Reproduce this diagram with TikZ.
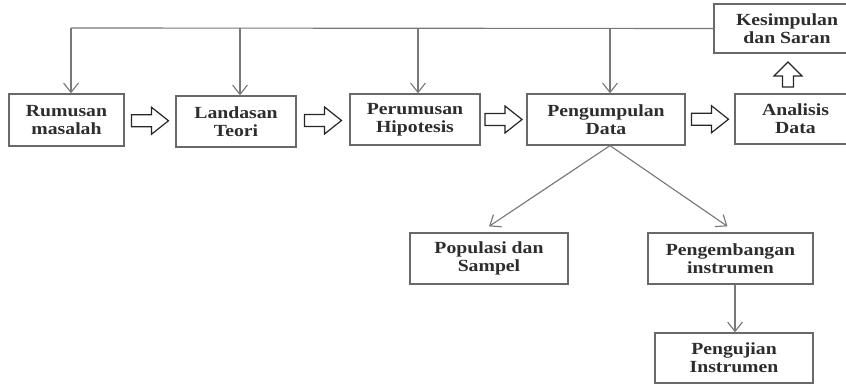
\documentclass[tikz,border=0pt]{standalone}
\usepackage{fontspec}
\setmainfont{Liberation Serif}[FakeStretch=1.16]
\usetikzlibrary{arrows.meta,calc}
\definecolor{boxline}{RGB}{105,105,105}
\definecolor{conline}{RGB}{120,120,120}
\definecolor{txt}{RGB}{45,45,45}
\tikzset{
  stepbox/.style={draw=boxline,line width=0.95pt,rectangle,align=center,
    inner sep=0pt,text=txt,font=\fontsize{12.75}{13.4}\selectfont\bfseries},
  bw/.style={minimum width=#1*0.75pt},
  bh/.style={minimum height=#1*0.75pt},
  con/.style={draw=conline,line width=0.85pt,-{Straight Barb[length=7pt,width=11pt]}},
  harrow/.style={draw=black!85,line width=0.9pt,fill=white},
  hright/.pic={\path[harrow] (-18.5,-6)--(1.5,-6)--(1.5,-13.5)--(18.5,0)--(1.5,13.5)--(1.5,6)--(-18.5,6)--cycle;},
  hup/.pic={\path[harrow] (0,0)--(14,14)--(5.5,14)--(5.5,25)--(-5.5,25)--(-5.5,14)--(-14,14)--cycle;}
}
\begin{document}
\begin{tikzpicture}[x=0.75pt,y=-0.75pt]
\useasboundingbox (0,0) rectangle (846,384);
\clip (0,0) rectangle (846,384);
% main row
\node[stepbox,bw=115,bh=52] (r1) at (66.5,120) {Rumusan\\masalah};
\node[stepbox,bw=120,bh=51] (r2) at (236,121.5) {Landasan\\Teori};
\node[stepbox,bw=130,bh=51] (r3) at (415,119.5) {Perumusan\\Hipotesis};
\node[stepbox,bw=158,bh=51] (r4) at (606,119.5) {Pengumpulan\\Data};
\node[stepbox,bw=121,bh=50] (r5) at (795.5,119) {Analisis\\Data};
\node[stepbox,bw=146,bh=49] (k) at (787,28.5) {Kesimpulan\\dan Saran};
% lower
\node[stepbox,bw=158,bh=51] (p1) at (489,258.5) {Populasi dan\\Sampel};
\node[stepbox,bw=165,bh=51] (p2) at (730.5,258.5) {Pengembangan\\instrumen};
\node[stepbox,bw=158,bh=50] (p3) at (734,358) {Pengujian\\Instrumen};
% top feedback line
\coordinate (t1) at (71,28);
\coordinate (t2) at (240,28);
\coordinate (t3) at (418,28);
\coordinate (t4) at (610,28);
\draw[draw=conline,line width=0.85pt] (t1) -- (k.west);
\draw[con] (t1) -- (t1 |- r1.north);
\draw[con] (t2) -- (t2 |- r2.north);
\draw[con] (t3) -- (t3 |- r3.north);
\draw[con] (t4) -- (t4 |- r4.north);
% hollow arrows
\pic at ($(r1.east)!0.5!(r2.west)$) {hright};
\pic at ($(r2.east)!0.5!(r3.west)$) {hright};
\pic at ($(r3.east)!0.5!(r4.west)$) {hright};
\pic at ($(r4.east)!0.5!(r5.west)$) {hright};
\pic at (788,62) {hup};
% branches
\coordinate (b) at (r4.south -| t4);
\coordinate (v) at (735,0);
\draw[con] (b) -- ($(p1.north)+(0,-6)$);
\draw[con] (b) -- ($(p2.north)+(-3,-6)$);
\draw[con] (p2.south -| v) -- (p3.north -| v);
\end{tikzpicture}
\end{document}
